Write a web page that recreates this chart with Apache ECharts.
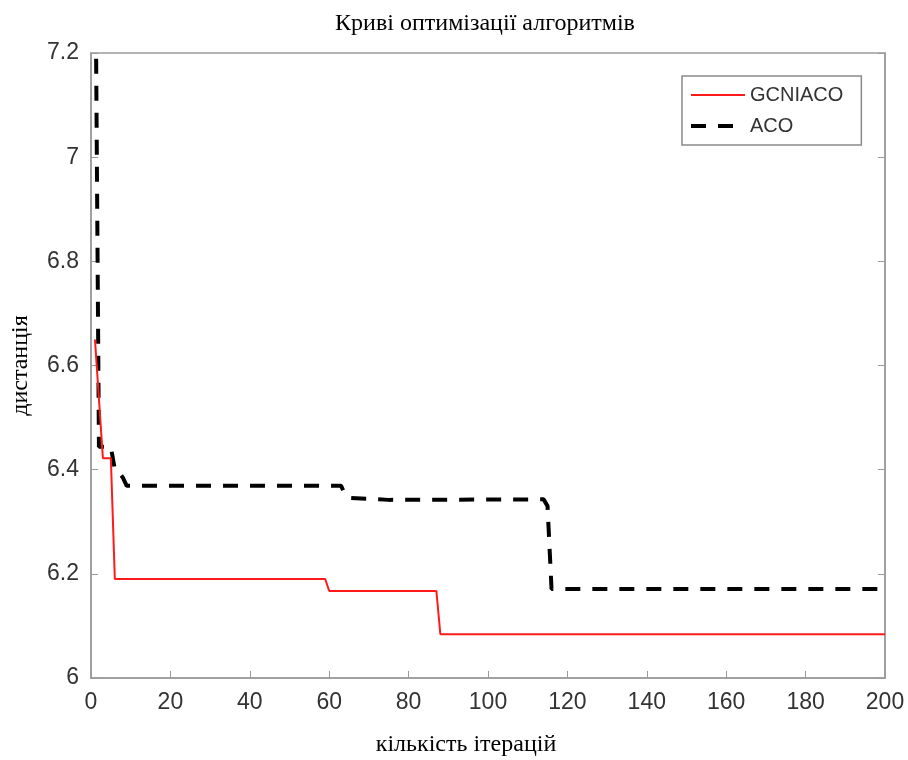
<!DOCTYPE html>
<html>
<head>
<meta charset="utf-8">
<script src="https://cdn.jsdelivr.net/npm/echarts@6/dist/echarts.min.js"></script>
<style>html,body{margin:0;padding:0;background:#fff}#c{width:908px;height:760px}</style>
</head>
<body>
<div id="c"></div>
<script>
const chartTitle = 'Криві оптимізації алгоритмів';
const xAxisTitle = 'кількість ітерацій';
const yAxisTitle = 'дистанція';
const seriesNames = ['GCNIACO', 'ACO'];

// GCNIACO breakpoints (iteration, distance)
const gcniacoIter = [1, 3, 5, 6, 59, 60, 87, 88, 200];
const gcniacoDist = [6.65, 6.422, 6.422, 6.19, 6.19, 6.167, 6.167, 6.084, 6.084];

// ACO breakpoints (iteration, distance)
const acoIter = [1, 2, 5, 6, 7, 8, 9, 63, 64, 65, 70, 75, 114, 115, 116, 200];
const acoDist = [7.5, 6.444, 6.444, 6.40, 6.395, 6.385, 6.369, 6.369, 6.352, 6.346, 6.344, 6.342, 6.343, 6.33, 6.171, 6.171];

const xTicks = {min: 0, max: 200, interval: 20};
const yTicks = {min: 6, max: 7.2, interval: 0.2};

const pairs = (xs, ys) => xs.map((x, i) => [x, ys[i]]);

const axisColor = '#9a9a9a';
const redColor = '#ff1a1a';
const acoDash = [15, 12];
const chart = echarts.init(document.getElementById('c'));
chart.setOption({
  animation: false,
  backgroundColor: '#fff',
  title: {
    text: chartTitle,
    left: 480,
    top: 7,
    textAlign: 'center',
    textStyle: {fontFamily: 'Liberation Serif', fontSize: 24, fontWeight: 'normal', color: '#000'}
  },
  grid: {left: 91, right: 23, top: 53, bottom: 82, outerBoundsMode: 'none', show: true, borderColor: axisColor, borderWidth: 1.5, backgroundColor: '#fff'},
  legend: {
    orient: 'vertical',
    left: 682,
    top: 76,
    padding: [9, 18, 9, 7],
    itemWidth: 54,
    itemHeight: 14,
    itemGap: 11,
    backgroundColor: '#fff',
    borderColor: '#8a8a8a',
    borderWidth: 1.5,
    itemStyle: {opacity: 0},
    textStyle: {fontFamily: 'Liberation Sans', fontSize: 20, color: '#333'},
    data: [
      {name: seriesNames[0], lineStyle: {color: redColor, width: 2}},
      {name: seriesNames[1], lineStyle: {color: '#000', width: 4, type: acoDash}}
    ]
  },
  xAxis: [{
    type: 'value',
    min: xTicks.min, max: xTicks.max, interval: xTicks.interval,
    name: xAxisTitle,
    nameLocation: 'middle',
    nameGap: 55,
    nameTextStyle: {fontFamily: 'Liberation Serif', fontSize: 24, color: '#000', padding: [0, 44, 0, 0]},
    axisLine: {show: true, lineStyle: {color: axisColor, width: 1.5}},
    axisTick: {show: true, inside: true, length: 7, lineStyle: {color: axisColor}},
    axisLabel: {fontFamily: 'Liberation Sans', fontSize: 23, color: '#333', margin: 13},
    splitLine: {show: false}
  }],
  yAxis: [{
    type: 'value',
    min: yTicks.min, max: yTicks.max, interval: yTicks.interval,
    name: yAxisTitle,
    nameLocation: 'middle',
    nameRotate: 90,
    nameGap: 58,
    nameTextStyle: {fontFamily: 'Liberation Serif', fontSize: 24, color: '#000'},
    axisLine: {show: true, lineStyle: {color: axisColor, width: 1.5}},
    axisTick: {show: true, inside: true, length: 7, lineStyle: {color: axisColor}},
    axisLabel: {fontFamily: 'Liberation Sans', fontSize: 23, color: '#333', margin: 12},
    splitLine: {show: false}
  }, {
    type: 'value',
    position: 'right',
    min: yTicks.min, max: yTicks.max, interval: yTicks.interval,
    axisLine: {show: true, lineStyle: {color: axisColor, width: 1.5}},
    axisTick: {show: true, inside: true, length: 7, lineStyle: {color: axisColor}},
    axisLabel: {show: false},
    splitLine: {show: false}
  }],
  series: [{
    name: seriesNames[0],
    type: 'line',
    data: pairs(gcniacoIter, gcniacoDist),
    symbol: 'none',
    lineStyle: {color: redColor, width: 2},
    itemStyle: {color: redColor},
    clip: true,
    z: 3
  }, {
    name: seriesNames[1],
    type: 'line',
    data: pairs(acoIter, acoDist),
    symbol: 'none',
    lineStyle: {color: '#000', width: 4, type: acoDash, cap: 'butt'},
    itemStyle: {color: '#000'},
    clip: true,
    z: 2
  }]
});
</script>
</body>
</html>
